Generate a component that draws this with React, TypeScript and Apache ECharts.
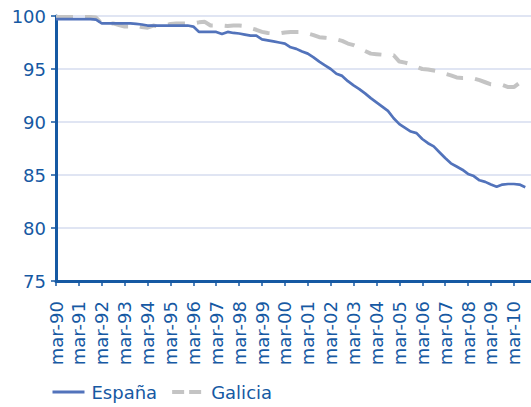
import React, { useEffect, useRef } from "react";
import * as echarts from "echarts";

const years = ["90","91","92","93","94","95","96","97","98","99","00","01","02","03","04","05","06","07","08","09","10"];
const months = ["mar", "jun", "sep", "dic"];
const categories: string[] = [];
years.forEach((y) => months.forEach((m) => categories.push(`${m}-${y}`)));

const espana: (number | null)[] = [
  99.7, 99.7, 99.7, 99.7, 99.7, 99.7, 99.7, 99.65,
  99.3, 99.3, 99.3, 99.3, 99.3, 99.3, 99.25, 99.2,
  99.1, 99.1, 99.1, 99.1, 99.1, 99.1, 99.1, 99.1,
  99.0, 98.5, 98.5, 98.5, 98.5, 98.3, 98.5, 98.4,
  98.35, 98.25, 98.15, 98.15, 97.8, 97.7, 97.6, 97.5,
  97.4, 97.05, 96.9, 96.65, 96.45, 96.1, 95.7, 95.35,
  95.0, 94.55, 94.35, 93.85, 93.45, 93.1, 92.7, 92.25,
  91.85, 91.45, 91.05, 90.35, 89.8, 89.45, 89.1, 88.95,
  88.4, 88.0, 87.7, 87.15, 86.6, 86.1, 85.8, 85.5,
  85.1, 84.9, 84.5, 84.35, 84.1, 83.9, 84.1, 84.15,
  84.15, 84.1, 83.85, null,
];

const galicia: (number | null)[] = [
  99.9, 99.9, 99.9, 99.9, 99.9, 99.9, 99.9, 99.85,
  99.3, 99.3, 99.3, 99.15, 99.0, 99.0, 99.1, 98.95,
  98.9, 99.1, 99.0, 99.1, 99.25, 99.3, 99.3, 99.3,
  99.3, 99.4, 99.45, 99.1, 99.1, 99.1, 99.05, 99.1,
  99.1, 99.05, 98.85, 98.7, 98.5, 98.4, 98.35, 98.35,
  98.45, 98.5, 98.5, 98.5, 98.35, 98.2, 98.0, 97.95,
  97.9, 97.8, 97.65, 97.4, 97.25, 97.0, 96.7, 96.45,
  96.4, 96.35, 96.35, 96.3, 95.7, 95.6, 95.45, 95.2,
  95.0, 94.95, 94.85, 94.75, 94.55, 94.4, 94.2, 94.15,
  94.15, 94.1, 93.95, 93.75, 93.55, 93.55, 93.5, 93.3,
  93.3, 93.7, 93.8, null,
];

const AXIS = "#1659a3";
const FONT = "DejaVu Sans";
const BLUE = "#5273bb";
const GRAY = "#c4c4c4";

export default function App() {
  const ref = useRef<HTMLDivElement>(null);
  useEffect(() => {
    if (!ref.current) return;
    const chart = echarts.init(ref.current, undefined, { renderer: "svg" });
    chart.setOption({
      animation: false,
      backgroundColor: "#ffffff",
      grid: { left: 56, right: -3.6, top: 16, bottom: 126, containLabel: false },
      legend: {
        left: 51,
        top: 383,
        padding: 0,
        itemWidth: 32,
        itemHeight: 14,
        itemGap: 13,
        itemStyle: { opacity: 0 },
        textStyle: { color: AXIS, fontFamily: FONT, fontSize: 18, padding: [0, 0, 0, 2] },
        data: [
          { name: "España", lineStyle: { color: BLUE, width: 3, type: "solid" } },
          { name: "Galicia", lineStyle: { color: GRAY, width: 4, type: [12, 5] } },
        ],
      },
      xAxis: {
        type: "category",
        data: categories,
        boundaryGap: false,
        axisLine: { lineStyle: { color: AXIS, width: 3 } },
        axisTick: { interval: 3, length: 5, lineStyle: { color: AXIS, width: 1.5 } },
        axisLabel: {
          interval: 3,
          rotate: 90,
          margin: 20,
          color: AXIS,
          fontFamily: FONT,
          fontSize: 18,
        },
        splitLine: { show: false },
      },
      yAxis: {
        type: "value",
        min: 75,
        max: 100,
        interval: 5,
        axisLine: { show: true, lineStyle: { color: AXIS, width: 3 } },
        axisTick: { show: true, length: 5, lineStyle: { color: AXIS, width: 1.5 } },
        axisLabel: { color: AXIS, fontFamily: FONT, fontSize: 18, margin: 10 },
        splitLine: { show: true, lineStyle: { color: "#d6dcef", width: 1.5 } },
      },
      series: [
        {
          name: "España",
          type: "line",
          data: espana,
          showSymbol: false,
          symbol: "none",
          z: 3,
          lineStyle: { color: BLUE, width: 2.7 },
          itemStyle: { color: BLUE },
        },
        {
          name: "Galicia",
          type: "line",
          data: galicia,
          showSymbol: false,
          symbol: "none",
          z: 2,
          lineStyle: { color: GRAY, width: 4, type: [17, 12] },
          itemStyle: { color: GRAY },
        },
      ],
    });
    return () => chart.dispose();
  }, []);
  return (
    <div
      ref={ref}
      style={{ position: "fixed", left: 0, top: 0, width: 531, height: 407 }}
    />
  );
}
